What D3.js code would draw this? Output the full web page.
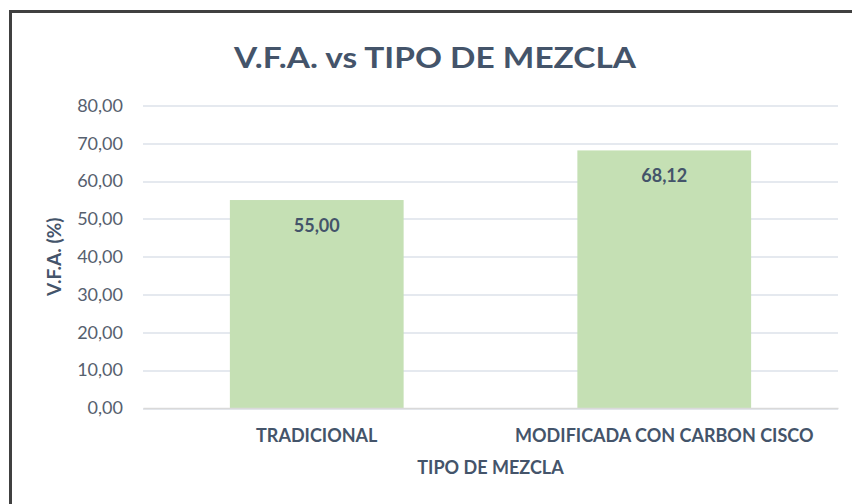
<!DOCTYPE html>
<html>
<head>
<meta charset="utf-8">
<script src="https://cdn.jsdelivr.net/npm/d3@7"></script>
<style>
  body { margin: 0; background: #fff; }
  text { font-family: "Lato", "Open Sans", sans-serif; }
</style>
</head>
<body>
<script>
// data
var categories = ["TRADICIONAL", "MODIFICADA CON CARBON CISCO"];
var vfaValues = [55.00, 68.12];
var yTicks = [0, 10, 20, 30, 40, 50, 60, 70, 80];

var W = 852, H = 504;
var margin = {top: 105.5, right: 14, bottom: 96, left: 143};
var width = W - margin.left - margin.right,
    height = H - margin.top - margin.bottom;

var fmt = function(v) { return d3.format(".2f")(v).replace(".", ","); };

var svg = d3.select("body").append("svg")
    .attr("width", W)
    .attr("height", H);

// chart border (only top and left show in the picture)
svg.append("path")
    .attr("d", "M10.5,504 V11.5 H852")
    .attr("fill", "none")
    .attr("stroke", "#404040")
    .attr("stroke-width", 3);

svg.append("text")
    .attr("x", 435)
    .attr("y", 68)
    .attr("text-anchor", "middle")
    .style("font-size", "29px")
    .style("font-weight", "bold")
    .style("fill", "#44546a")
    .attr("textLength", 402)
    .attr("lengthAdjust", "spacingAndGlyphs")
    .text("V.F.A. vs TIPO DE MEZCLA");

var g = svg.append("g")
    .attr("transform", "translate(" + margin.left + "," + margin.top + ")");

var x = d3.scaleBand()
    .domain(categories)
    .range([0, width])
    .paddingInner(0.5)
    .paddingOuter(0.25);

var y = d3.scaleLinear()
    .domain([0, 80])
    .range([height, 0]);

// gridlines
g.selectAll(".grid")
    .data(yTicks)
  .enter().append("line")
    .attr("class", "grid")
    .attr("x1", 0)
    .attr("x2", width)
    .attr("y1", function(d) { return Math.round(y(d)) + 0.5; })
    .attr("y2", function(d) { return Math.round(y(d)) + 0.5; })
    .attr("stroke", "#dde2ea")
    .attr("stroke-width", 1.5);

var yAxis = d3.axisLeft(y)
    .tickValues(yTicks)
    .tickFormat(fmt)
    .tickSize(0)
    .tickPadding(20);

var yG = g.append("g").call(yAxis);
yG.select(".domain").remove();
yG.selectAll("text")
    .style("font-size", "18px")
    .style("fill", "#56606e");

g.selectAll(".bar")
    .data(vfaValues)
  .enter().append("rect")
    .attr("class", "bar")
    .attr("x", function(d, i) { return x(categories[i]); })
    .attr("y", function(d) { return y(d); })
    .attr("width", x.bandwidth())
    .attr("height", function(d) { return height - y(d); })
    .attr("fill", "#c5e0b4");

g.selectAll(".lbl")
    .data(vfaValues)
  .enter().append("text")
    .attr("class", "lbl")
    .attr("x", function(d, i) { return x(categories[i]) + x.bandwidth() / 2; })
    .attr("y", function(d) { return y(d) + 32; })
    .attr("text-anchor", "middle")
    .style("font-size", "18px")
    .style("font-weight", "bold")
    .style("fill", "#44546a")
    .text(fmt);

var xAxis = d3.axisBottom(x).tickSize(0).tickPadding(21);
var xG = g.append("g")
    .attr("transform", "translate(0," + height + ")")
    .call(xAxis);
xG.select(".domain")
    .attr("stroke", "#d9d9d9")
    .attr("stroke-width", 1.5);
xG.selectAll("text")
    .style("font-size", "18px")
    .style("font-weight", "bold")
    .style("fill", "#44546a");

// axis titles
svg.append("text")
    .attr("x", margin.left + width / 2)
    .attr("y", 474)
    .attr("text-anchor", "middle")
    .style("font-size", "18px")
    .style("font-weight", "bold")
    .style("fill", "#44546a")
    .text("TIPO DE MEZCLA");

svg.append("text")
    .attr("transform", "translate(61," + (margin.top + height / 2) + ") rotate(-90)")
    .attr("text-anchor", "middle")
    .style("font-size", "19px")
    .style("font-weight", "bold")
    .style("fill", "#44546a")
    .text("V.F.A. (%)");
</script>
</body>
</html>
